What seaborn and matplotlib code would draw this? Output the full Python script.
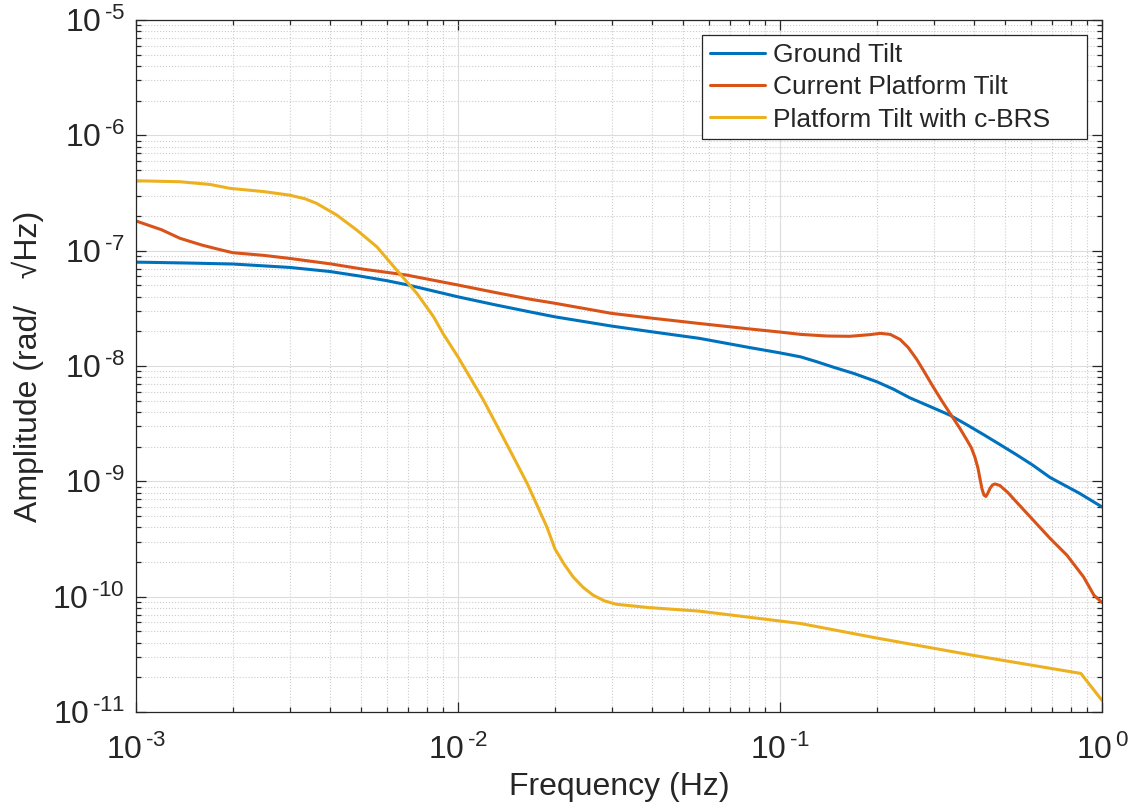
import numpy as np
import pandas as pd
import matplotlib
matplotlib.use("Agg")
import matplotlib.pyplot as plt
import seaborn as sns
from matplotlib.ticker import LogLocator, NullFormatter, FuncFormatter

# values (freq in Hz, amplitude in rad/sqrt(Hz))
ground_f = [1e-3, 1.5e-3, 2e-3, 3e-3, 4e-3, 5e-3, 6e-3, 7e-3, 1e-2, 1.3e-2, 1.67e-2, 2e-2,
            3e-2, 4e-2, 5.6e-2, 8e-2, 0.1, 0.116, 0.13, 0.146, 0.17, 0.2, 0.225, 0.253, 0.29,
            0.337, 0.38, 0.428, 0.48, 0.543, 0.61, 0.69, 0.85, 1.0]
ground_a = [7.96e-8, 7.8e-8, 7.66e-8, 7.16e-8, 6.6e-8, 6.0e-8, 5.5e-8, 5.04e-8, 3.98e-8, 3.4e-8,
            2.95e-8, 2.67e-8, 2.22e-8, 1.98e-8, 1.74e-8, 1.45e-8, 1.3e-8, 1.2e-8, 1.09e-8, 9.8e-9,
            8.6e-9, 7.3e-9, 6.3e-9, 5.3e-9, 4.5e-9, 3.75e-9, 3.1e-9, 2.55e-9, 2.1e-9, 1.7e-9,
            1.38e-9, 1.08e-9, 7.9e-10, 6.0e-10]

current_f = [1e-3, 1.2e-3, 1.37e-3, 1.6e-3, 1.8e-3, 2e-3, 2.5e-3, 3e-3, 4e-3, 5.1e-3, 6.9e-3,
             1e-2, 1.3e-2, 1.67e-2, 2e-2, 3e-2, 4e-2, 5.6e-2, 8e-2, 0.1, 0.116, 0.14, 0.165,
             0.19, 0.205, 0.22, 0.236, 0.25, 0.266, 0.282, 0.299, 0.318, 0.337, 0.36, 0.38,
             0.393, 0.403, 0.412, 0.418, 0.424, 0.43, 0.436, 0.442, 0.449, 0.457, 0.465, 0.482,
             0.51, 0.543, 0.612, 0.69, 0.778, 0.877, 0.944, 1.0]
current_a = [1.81e-7, 1.52e-7, 1.28e-7, 1.12e-7, 1.03e-7, 9.6e-8, 9.1e-8, 8.57e-8, 7.7e-8, 6.9e-8,
             6.16e-8, 5.04e-8, 4.35e-8, 3.8e-8, 3.5e-8, 2.86e-8, 2.6e-8, 2.34e-8, 2.1e-8, 1.97e-8,
             1.88e-8, 1.82e-8, 1.81e-8, 1.87e-8, 1.92e-8, 1.88e-8, 1.7e-8, 1.45e-8, 1.14e-8,
             8.7e-9, 6.6e-9, 5.0e-9, 3.9e-9, 2.95e-9, 2.3e-9, 1.95e-9, 1.62e-9, 1.3e-9, 1.05e-9,
             8.6e-10, 7.6e-10, 7.4e-10, 7.9e-10, 8.7e-10, 9.3e-10, 9.5e-10, 9.2e-10, 8.0e-10,
             6.6e-10, 4.6e-10, 3.2e-10, 2.29e-10, 1.48e-10, 1.03e-10, 8.9e-11]

cbrs_f = [1e-3, 1.37e-3, 1.7e-3, 1.96e-3, 2.5e-3, 3e-3, 3.35e-3, 3.64e-3, 4.2e-3, 4.85e-3,
          5.6e-3, 6.45e-3, 7.45e-3, 8.4e-3, 9e-3, 1e-2, 1.2e-2, 1.45e-2, 1.64e-2, 1.89e-2,
          2e-2, 2.14e-2, 2.28e-2, 2.45e-2, 2.63e-2, 2.85e-2, 3.1e-2, 3.9e-2, 5.6e-2, 0.116,
          0.198, 0.398, 0.86, 1.0]
cbrs_a = [4.04e-7, 3.96e-7, 3.75e-7, 3.47e-7, 3.25e-7, 3.03e-7, 2.82e-7, 2.57e-7, 2.04e-7,
          1.51e-7, 1.08e-7, 6.8e-8, 4.27e-8, 2.67e-8, 1.9e-8, 1.2e-8, 5.06e-9, 1.86e-9, 9.6e-10,
          4.0e-10, 2.6e-10, 1.9e-10, 1.48e-10, 1.2e-10, 1.03e-10, 9.2e-11, 8.6e-11, 8.05e-11,
          7.5e-11, 5.85e-11, 4.4e-11, 3.1e-11, 2.16e-11, 1.26e-11]

labels = ["Ground Tilt", "Current Platform Tilt", "Platform Tilt with c-BRS"]
colors = ["#0072BD", "#D95319", "#EDB120"]
x_decades = [1e-3, 1e-2, 1e-1, 1e0]
y_decades = [1e-11, 1e-10, 1e-9, 1e-8, 1e-7, 1e-6, 1e-5]

sns.set_style("ticks")
plt.rcParams["font.family"] = ["Liberation Sans", "DejaVu Sans"]
plt.rcParams["mathtext.fontset"] = "custom"
plt.rcParams["mathtext.rm"] = "Liberation Sans"
plt.rcParams["mathtext.it"] = "Liberation Sans"

ink = "#262626"

fig = plt.figure(figsize=(11.32, 8.07), dpi=100)
ax = fig.add_axes([0.1201, 0.1177, 0.8534, 0.8575])

series = [(ground_f, ground_a), (current_f, current_a), (cbrs_f, cbrs_a)]
for (f, a), lab, col in zip(series, labels, colors):
    sns.lineplot(x=f, y=a, ax=ax, color=col, linewidth=2.2, label=lab,
                 estimator=None, sort=False)

ax.set_xscale("log")
ax.set_yscale("log")
ax.set_xlim(x_decades[0], x_decades[-1])
ax.set_ylim(y_decades[0], y_decades[-1])


def decade_label(v, pos):
    n = int(round(np.log10(v)))
    exp = f"-{-n}" if n < 0 else f"{n}"
    exp = exp.replace("-", r"\text{-}")
    return rf"$\mathdefault{{10^{{\,{exp}}}}}$"


ax.set_xticks(x_decades)
ax.set_yticks(y_decades)
ax.xaxis.set_minor_locator(LogLocator(base=10, subs=np.arange(2, 10), numticks=20))
ax.yaxis.set_minor_locator(LogLocator(base=10, subs=np.arange(2, 10), numticks=20))
ax.xaxis.set_major_formatter(FuncFormatter(decade_label))
ax.yaxis.set_major_formatter(FuncFormatter(decade_label))
ax.xaxis.set_minor_formatter(NullFormatter())
ax.yaxis.set_minor_formatter(NullFormatter())

ax.grid(True, which="major", color="#dcdcdc", linestyle="-", linewidth=0.8)
ax.grid(True, which="minor", color="#cccccc", linestyle=":", linewidth=0.8)
ax.set_axisbelow(True)

ax.tick_params(which="both", direction="in", top=True, right=True, colors=ink,
               labelsize=23, width=0.9)
ax.tick_params(which="major", length=7)
ax.tick_params(axis="x", which="major", pad=16)
ax.tick_params(axis="y", which="major", pad=8)
ax.tick_params(which="minor", length=3.5)
for s in ax.spines.values():
    s.set_color(ink)
    s.set_linewidth(0.9)

ax.set_xlabel("Frequency (Hz)", fontsize=23, color=ink, labelpad=5)
ax.set_ylabel("Amplitude (rad/   √Hz)", fontsize=23, color=ink, labelpad=6)

leg = ax.legend(loc="upper left", bbox_to_anchor=(0.586, 0.831, 0.3986, 0.147),
                mode="expand", borderaxespad=0,
                fontsize=19, frameon=True, fancybox=False, framealpha=1,
                edgecolor=ink, handlelength=2.1, handletextpad=0.3,
                labelspacing=0.31, borderpad=0.3)
leg.get_frame().set_linewidth(0.9)

fig.savefig("out.png", dpi=100)
